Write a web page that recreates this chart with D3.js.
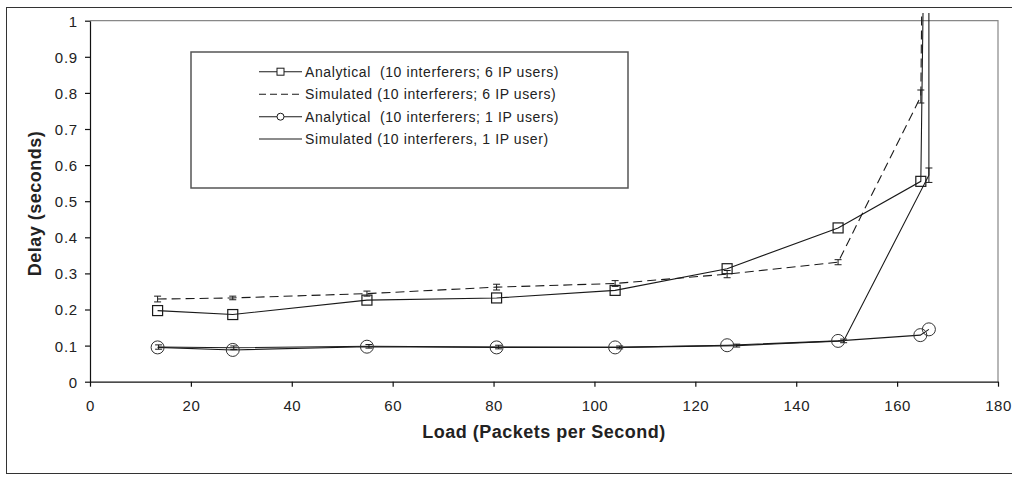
<!DOCTYPE html>
<html>
<head>
<meta charset="utf-8">
<script src="https://cdn.jsdelivr.net/npm/d3@7"></script>
<style>
  body { margin: 0; background: #fff; }
  text { font-family: "Liberation Sans", Arial, sans-serif; fill: #222; }
</style>
</head>
<body>
<svg id="chart" width="1012" height="477"></svg>
<script>
// x values (load, packets per second) and delays (seconds)
var loadA6 = [13.4, 28.3, 54.9, 80.6, 104.1, 126.3, 148.3, 164.7, 165.3];
var analytical6 = [0.197, 0.186, 0.226, 0.232, 0.253, 0.313, 0.426, 0.555, 1.2];

var loadS6 = [13.4, 28.3, 54.9, 80.6, 104.1, 126.3, 148.3, 164.7, 165.0];
var simulated6 = [0.229, 0.232, 0.244, 0.262, 0.272, 0.298, 0.331, 0.79, 1.2];
var simulated6Err = [0.008, 0.005, 0.007, 0.008, 0.008, 0.01, 0.007, 0.018, 0];

var loadA1 = [13.4, 28.3, 54.9, 80.6, 104.1, 126.3, 148.3, 164.6, 166.3];
var analytical1 = [0.095, 0.088, 0.097, 0.095, 0.095, 0.101, 0.113, 0.129, 0.145];

var loadS1 = [13.6, 28.5, 55.3, 81.0, 105.0, 128.2, 149.4, 166.3, 166.3];
var simulated1 = [0.096, 0.094, 0.098, 0.096, 0.095, 0.100, 0.113, 0.572, 1.2];
var simulated1Err = [0.006, 0.005, 0.005, 0.005, 0.004, 0.004, 0.005, 0.02, 0];

var xTicks = [0, 20, 40, 60, 80, 100, 120, 140, 160, 180];
var yTicks = [0, 0.1, 0.2, 0.3, 0.4, 0.5, 0.6, 0.7, 0.8, 0.9, 1];

var legendLabels = [
    "Analytical  (10 interferers; 6 IP users)",
    "Simulated (10 interferers; 6 IP users)",
    "Analytical  (10 interferers; 1 IP users)",
    "Simulated (10 interferers, 1 IP user)"
];

var svg = d3.select("#chart");
var plotLeft = 90, plotRight = 998, plotTop = 20.7, plotBottom = 381.7;

var x = d3.scaleLinear().domain([0, 180]).range([plotLeft, plotRight]);
var y = d3.scaleLinear().domain([0, 1]).range([plotBottom, plotTop]);

function zip(xs, ys, es) {
    return xs.map(function (d, i) { return { x: d, y: ys[i], e: es ? es[i] : 0 }; });
}

var seriesA6 = zip(loadA6, analytical6);
var seriesS6 = zip(loadS6, simulated6, simulated6Err);
var seriesA1 = zip(loadA1, analytical1);
var seriesS1 = zip(loadS1, simulated1, simulated1Err);

// outer frame
svg.append("rect").attr("x", 6.5).attr("y", 7.5).attr("width", 1010).attr("height", 466)
    .attr("fill", "none").attr("stroke", "#333").attr("stroke-width", 1);

// plot area frame (gray top and right)
svg.append("path")
    .attr("d", "M" + plotLeft + "," + plotTop + "H" + plotRight + "V" + plotBottom)
    .attr("fill", "none").attr("stroke", "#888").attr("stroke-width", 1.2);

svg.append("defs").append("clipPath").attr("id", "plotclip")
    .append("rect").attr("x", plotLeft).attr("y", 13)
    .attr("width", plotRight - plotLeft + 2).attr("height", plotBottom - 13);

var xAxis = d3.axisBottom(x).tickValues(xTicks).tickSize(5).tickSizeOuter(0).tickFormat(d3.format("d"));
var yAxis = d3.axisLeft(y).tickValues(yTicks).tickSize(5).tickSizeOuter(0).tickFormat(d3.format("~g"));

var gx = svg.append("g").attr("transform", "translate(0," + plotBottom + ")").call(xAxis);
gx.selectAll("text").attr("dy", null).attr("y", 29)
    .style("font-size", "15px").style("letter-spacing", "0.5px").attr("fill", "#222");
var gy = svg.append("g").attr("transform", "translate(" + plotLeft + ",0)").call(yAxis);
gy.selectAll("text").attr("x", -12).attr("dy", "0.36em")
    .style("font-size", "15px").style("letter-spacing", "0.8px").attr("fill", "#222");
svg.selectAll(".domain, .tick line").attr("stroke", "#111").attr("stroke-width", 1.2);

svg.append("text").attr("x", (plotLeft + plotRight) / 2).attr("y", 438).attr("text-anchor", "middle")
    .style("font-size", "18px").style("font-weight", "bold").style("letter-spacing", "0.5px")
    .text("Load (Packets per Second)");
svg.append("text").attr("transform", "translate(41,203.5) rotate(-90)").attr("text-anchor", "middle")
    .style("font-size", "18px").style("font-weight", "bold").style("letter-spacing", "0.5px")
    .text("Delay (seconds)");

var plot = svg.append("g").attr("clip-path", "url(#plotclip)");
var line = d3.line().x(function (d) { return x(d.x); }).y(function (d) { return y(d.y); });

function drawLine(data, dash) {
    plot.append("path").datum(data).attr("d", line)
        .attr("fill", "none").attr("stroke", "#1a1a1a").attr("stroke-width", 1.1)
        .attr("stroke-dasharray", dash || null);
}

function drawErrors(data) {
    var g = plot.append("g").attr("stroke", "#1a1a1a").attr("stroke-width", 1);
    data.filter(function (d) { return d.e > 0; }).forEach(function (d) {
        var cx = x(d.x), y0 = y(d.y - d.e), y1 = y(d.y + d.e);
        g.append("line").attr("x1", cx).attr("x2", cx).attr("y1", y0).attr("y2", y1);
        g.append("line").attr("x1", cx - 3.5).attr("x2", cx + 3.5).attr("y1", y0).attr("y2", y0);
        g.append("line").attr("x1", cx - 3.5).attr("x2", cx + 3.5).attr("y1", y1).attr("y2", y1);
    });
}

drawLine(seriesS6, "9,5");
drawErrors(seriesS6);
drawLine(seriesS1);
drawErrors(seriesS1);
drawLine(seriesA6);
drawLine(seriesA1);

plot.selectAll(".sq").data(seriesA6).enter().append("rect")
    .attr("x", function (d) { return x(d.x) - 5; })
    .attr("y", function (d) { return y(d.y) - 5; })
    .attr("width", 10).attr("height", 10)
    .attr("fill", "none").attr("stroke", "#1a1a1a").attr("stroke-width", 1.2);

plot.selectAll(".ci").data(seriesA1).enter().append("circle")
    .attr("cx", function (d) { return x(d.x); })
    .attr("cy", function (d) { return y(d.y); })
    .attr("r", 6.5)
    .attr("fill", "none").attr("stroke", "#333").attr("stroke-width", 1);

// legend
var lg = svg.append("g");
lg.append("rect").attr("x", 191).attr("y", 52).attr("width", 437).attr("height", 136)
    .attr("fill", "#fff").attr("stroke", "#555").attr("stroke-width", 1.5);

var rowY = [71.7, 94.3, 116.7, 139];
legendLabels.forEach(function (label, i) {
    var ry = rowY[i];
    lg.append("line").attr("x1", 259).attr("x2", 302).attr("y1", ry).attr("y2", ry)
        .attr("stroke", "#1a1a1a").attr("stroke-width", 1.1)
        .attr("stroke-dasharray", i === 1 ? "7,4" : null);
    if (i === 0) {
        lg.append("rect").attr("x", 277).attr("y", ry - 3.5).attr("width", 7).attr("height", 7)
            .attr("fill", "#fff").attr("stroke", "#1a1a1a");
    }
    if (i === 2) {
        lg.append("circle").attr("cx", 280.5).attr("cy", ry).attr("r", 3.5)
            .attr("fill", "#fff").attr("stroke", "#1a1a1a");
    }
    lg.append("text").attr("x", 305).attr("y", ry + 5)
        .style("font-size", "14px").style("letter-spacing", "0.6px").style("white-space", "pre")
        .text(label);
});
</script>
</body>
</html>
